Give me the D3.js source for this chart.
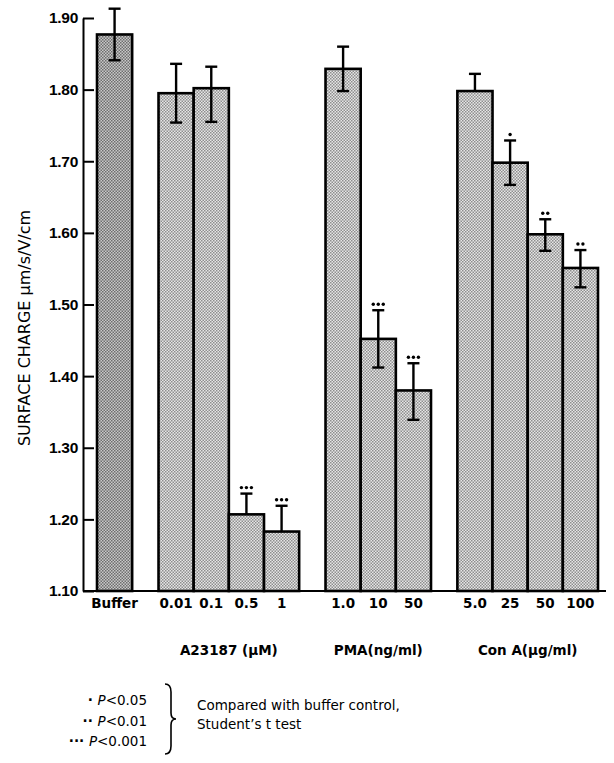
<!DOCTYPE html>
<html>
<head>
<meta charset="utf-8">
<script src="https://cdn.jsdelivr.net/npm/d3@7"></script>
<style>
  body { margin: 0; background: #fff; }
  svg { display: block; }
</style>
</head>
<body>
<script>
// data
var categories = ["Buffer", "0.01", "0.1", "0.5", "1", "1.0", "10", "50", "5.0", "25", "50", "100"];
var groupIndex = [0, 1, 1, 1, 1, 2, 2, 2, 3, 3, 3, 3];
var groupLabels = ["", "A23187 (\u03bcM)", "PMA(ng/ml)", "Con A(\u03bcg/ml)"];
var means    = [1.877, 1.795, 1.802, 1.207, 1.183, 1.829, 1.452, 1.380, 1.798, 1.698, 1.598, 1.551];
var errUp    = [0.036, 0.041, 0.030, 0.029, 0.036, 0.031, 0.040, 0.038, 0.024, 0.031, 0.021, 0.025];
// lower whiskers as visible in the figure (0 = not drawn)
var errDown  = [0.036, 0.041, 0.047, 0, 0, 0.031, 0.040, 0.041, 0, 0.031, 0.023, 0.027];
var sigLevels = [0, 0, 0, 3, 3, 0, 3, 3, 0, 1, 2, 2];
var yTicks = [1.10, 1.20, 1.30, 1.40, 1.50, 1.60, 1.70, 1.80, 1.90];
var legendRows = ["P<0.05", "P<0.01", "P<0.001"];
var noteLines = ["Compared with buffer control,", "Student\u2019s t test"];

var W = 614, H = 763;
var svg = d3.select("body").append("svg").attr("width", W).attr("height", H);

// stipple fills
var defs = svg.append("defs");
function stipple(id, bg, dot) {
  var p = defs.append("pattern").attr("id", id)
            .attr("patternUnits", "userSpaceOnUse").attr("width", 3).attr("height", 3);
  p.append("rect").attr("width", 3).attr("height", 3).attr("fill", bg);
  p.append("rect").attr("x", 0).attr("y", 0).attr("width", 1.5).attr("height", 1.5).attr("fill", dot);
  p.append("rect").attr("x", 1.5).attr("y", 1.5).attr("width", 1.5).attr("height", 1.5).attr("fill", dot);
}
stipple("dotsDark", "#c8c8c8", "#6e6e6e");
stipple("dotsLight", "#e6e6e6", "#8e8e8e");

// bar slots: 1 unit per bar, 0.75 unit gap between groups
var gapUnits = 0.75;
var slot = categories.map(function(d, i) { return i + gapUnits * groupIndex[i]; });
var totalUnits = categories.length + gapUnits * (groupLabels.length - 1);

var x = d3.scaleLinear().domain([0, totalUnits]).range([97, 598]);
var y = d3.scaleLinear().domain([1.10, 1.90]).range([591, 18]);

var axisX = 83;

// y axis, ticks point inward
svg.append("g")
    .attr("transform", "translate(" + axisX + ",0)")
    .call(d3.axisLeft(y).tickValues(yTicks).tickFormat(d3.format(".2f"))
            .tickSize(-11).tickSizeOuter(0).tickPadding(5))
    .call(function(g) {
      g.select(".domain").attr("stroke-width", 2);
      g.selectAll(".tick line").attr("stroke-width", 2);
      g.selectAll(".tick text")
        .attr("font-family", "Liberation Sans, Arial, sans-serif")
        .attr("font-weight", "bold").attr("font-size", 15.5)
        .attr("letter-spacing", -0.3).attr("fill", "#000");
    });

// baseline
svg.append("line")
    .attr("x1", axisX).attr("x2", 606)
    .attr("y1", y(1.10)).attr("y2", y(1.10))
    .attr("stroke", "#000").attr("stroke-width", 2);

// bars
var bars = svg.append("g");
bars.selectAll("rect")
  .data(means)
  .enter().append("rect")
    .attr("x", function(d, i) { return x(slot[i]); })
    .attr("width", function(d, i) { return x(slot[i] + 1) - x(slot[i]); })
    .attr("y", function(d) { return y(d); })
    .attr("height", function(d) { return y(1.10) - y(d); })
    .attr("fill", function(d, i) { return i == 0 ? "url(#dotsDark)" : "url(#dotsLight)"; })
    .attr("stroke", "#000").attr("stroke-width", 2.6);

// error bars
var err = svg.append("g").attr("stroke", "#000").attr("stroke-width", 2.4);
means.forEach(function(m, i) {
  var cx = x(slot[i] + 0.5);
  var ends = [m + errUp[i]];
  if (errDown[i] > 0) ends.push(m - errDown[i]);
  err.append("line").attr("x1", cx).attr("x2", cx)
     .attr("y1", y(m + errUp[i])).attr("y2", y(m - errDown[i]));
  ends.forEach(function(v) {
    err.append("line").attr("x1", cx - 6).attr("x2", cx + 6)
       .attr("y1", y(v)).attr("y2", y(v));
  });
});

// significance dots
means.forEach(function(m, i) {
  var n = sigLevels[i];
  var cx = x(slot[i] + 0.5);
  for (var k = 0; k < n; k++) {
    svg.append("circle")
       .attr("cx", cx + (k - (n - 1) / 2) * 5)
       .attr("cy", y(m + errUp[i]) - 6)
       .attr("r", 1.7).attr("fill", "#000");
  }
});

// category labels
svg.append("g").selectAll("text")
  .data(categories)
  .enter().append("text")
    .attr("x", function(d, i) { return x(slot[i] + 0.5); })
    .attr("y", 608)
    .attr("text-anchor", "middle")
    .attr("font-family", "DejaVu Sans, sans-serif")
    .attr("font-weight", "bold").attr("font-size", 13.5)
    .text(function(d) { return d; });

// group labels
groupLabels.forEach(function(g, gi) {
  if (!g) return;
  var idx = d3.range(categories.length).filter(function(i) { return groupIndex[i] == gi; });
  var cx = (x(slot[idx[0]]) + x(slot[idx[idx.length - 1]] + 1)) / 2;
  svg.append("text")
     .attr("x", cx).attr("y", 655)
     .attr("text-anchor", "middle")
     .attr("font-family", "DejaVu Sans, sans-serif")
     .attr("font-weight", "bold").attr("font-size", 13.5)
     .text(g);
});

// y axis title
svg.append("text")
    .attr("transform", "translate(30,328) rotate(-90)")
    .attr("text-anchor", "middle")
    .attr("font-family", "DejaVu Sans, sans-serif")
    .attr("font-size", 16)
    .text("SURFACE CHARGE \u03bcm/s/V/cm");

// legend
var leg = svg.append("g")
    .attr("font-family", "DejaVu Sans, sans-serif")
    .attr("font-size", 13.5);
legendRows.forEach(function(t, i) {
  var ty = 705 + i * 20.5;
  var txt = leg.append("text").attr("x", 147).attr("y", ty).attr("text-anchor", "end");
  txt.append("tspan").attr("font-weight", "bold").text("\u00b7".repeat(i + 1) + " ");
  txt.append("tspan").attr("font-style", "italic").text("P");
  txt.append("tspan").text(t.slice(1));
});

// brace
var bx = 165, by0 = 684, by1 = 754, bm = (by0 + by1) / 2;
svg.append("path")
    .attr("d", "M" + bx + "," + by0 +
               " Q" + (bx + 6) + "," + by0 + " " + (bx + 6) + "," + (by0 + 8) +
               " L" + (bx + 6) + "," + (bm - 6) +
               " Q" + (bx + 6) + "," + bm + " " + (bx + 11) + "," + bm +
               " Q" + (bx + 6) + "," + bm + " " + (bx + 6) + "," + (bm + 6) +
               " L" + (bx + 6) + "," + (by1 - 8) +
               " Q" + (bx + 6) + "," + by1 + " " + bx + "," + by1)
    .attr("fill", "none").attr("stroke", "#000").attr("stroke-width", 1.6);

noteLines.forEach(function(t, i) {
  leg.append("text").attr("x", 197).attr("y", 710 + i * 19).text(t);
});
</script>
</body>
</html>
